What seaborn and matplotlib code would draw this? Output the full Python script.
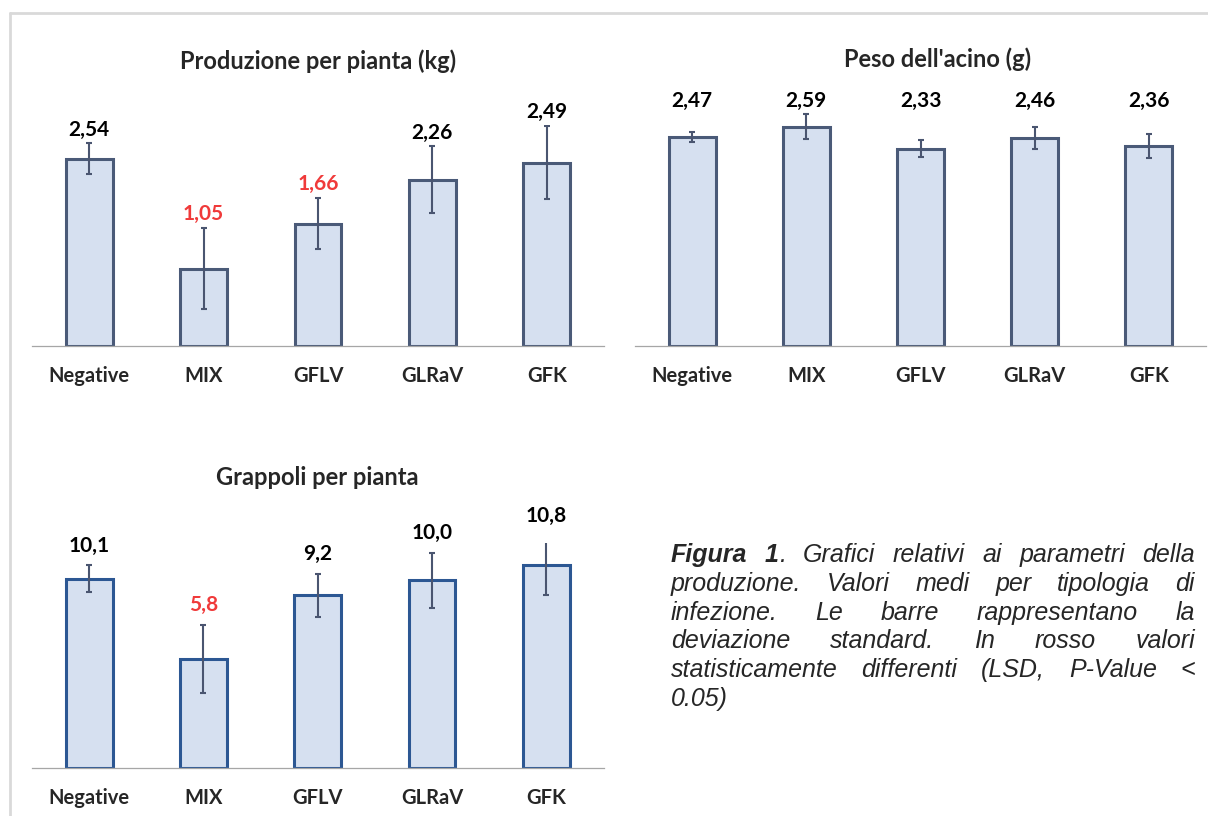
import numpy as np
import pandas as pd
import seaborn as sns
import matplotlib
matplotlib.use("Agg")
import matplotlib.pyplot as plt
from matplotlib.lines import Line2D

# categories shared by the three charts
categories = ["Negative", "MIX", "GFLV", "GLRaV", "GFK"]

# Produzione per pianta (kg)
prod_mean = [2.54, 1.05, 1.66, 2.26, 2.49]
prod_sd = [0.21, 0.55, 0.35, 0.45, 0.50]
prod_red = [False, True, True, False, False]

# Peso dell'acino (g)
peso_mean = [2.47, 2.59, 2.33, 2.46, 2.36]
peso_sd = [0.06, 0.15, 0.10, 0.13, 0.14]
peso_red = [False, False, False, False, False]

# Grappoli per pianta
grap_mean = [10.1, 5.8, 9.2, 10.0, 10.8]
grap_sd = [0.70, 1.80, 1.15, 1.47, 1.60]
grap_red = [False, True, False, False, False]

caption_lines = [
    "Figura 1. Grafici relativi ai parametri della",
    "produzione. Valori medi per tipologia di",
    "infezione. Le barre rappresentano la",
    "deviazione standard. In rosso valori",
    "statisticamente differenti (LSD, P-Value <",
    "0.05)",
]

W, H = 1208, 816
FILL = "#D6E0F0"
ERR = "#4A5570"
RED = "#F03A3A"
GRAY = "#A6A6A6"


def px_rect(left, top, right, bottom):
    """Axes rectangle in figure fractions from pixel edges."""
    return [left / W, 1 - bottom / H, (right - left) / W, (bottom - top) / H]


def draw_panel(ax, means, sds, red, title, edge, ndec, ymax, title_pad,
               label_off, labels_on_top=False, title_x=0.5):
    df = pd.DataFrame({"cat": categories, "val": means})
    sns.barplot(data=df, x="cat", y="val", ax=ax, color=FILL, saturation=1,
                width=0.41, edgecolor=edge, linewidth=2.2, errorbar=None)
    x = np.arange(len(categories))
    ax.errorbar(x, means, yerr=sds, fmt="none", ecolor=ERR, elinewidth=1.5,
                capsize=2.5, capthick=1.5, zorder=5)
    ax.set_ylim(0, ymax)
    ax.set_xlim(-0.5, len(categories) - 0.5)

    # value labels above the error bars
    for xi, m, s, r in zip(x, means, sds, red):
        txt = "{:.{}f}".format(m, ndec).replace(".", ",")
        y = ymax if labels_on_top else m + s
        ax.annotate(txt, (xi, y), xytext=(0, label_off),
                    textcoords="offset points", ha="center", va="center",
                    fontsize=15, fontweight="bold",
                    color=RED if r else "black", annotation_clip=False)

    # excel-like axis: only the bottom line with ticks between categories
    for side in ["left", "top", "right"]:
        ax.spines[side].set_visible(False)
    ax.spines["bottom"].set_color(GRAY)
    ax.spines["bottom"].set_linewidth(0.9)
    ax.set_yticks([])
    ax.set_xticks(np.arange(-0.5, len(categories), 1), minor=True)
    ax.tick_params(axis="x", which="major", length=0, pad=14.5,
                   labelsize=14.5)
    ax.tick_params(axis="x", which="minor", length=4.5, width=0.9,
                   color=GRAY, direction="out")
    for lab in ax.get_xticklabels():
        lab.set_fontweight("bold")
    ax.set_xlabel("")
    ax.set_ylabel("")
    ax.set_title(title, fontsize=17, fontweight="bold", pad=title_pad,
                 x=title_x)
    ax.set_facecolor("white")


def draw_caption(fig, lines, x0, x1, y0, step, size=18):
    """Justified italic caption, first words in bold."""
    renderer = fig.canvas.get_renderer()
    first = True
    for i, line in enumerate(lines):
        yb = 1 - (y0 + i * step) / H
        words = []
        for w in line.split(" "):
            if first and w == "Figura":
                words.append([(w, "bold")])
            elif first and w == "1.":
                words.append([("1", "bold"), (".", "normal")])
                first = False
            else:
                words.append([(w, "normal")])
        # build the pieces and measure them
        built = []
        for segs in words:
            parts = []
            for s, wt in segs:
                t = fig.text(0, yb, s, fontsize=size, fontstyle="italic",
                             fontweight=wt, family=["Liberation Sans"],
                             va="baseline", ha="left")
                wpx = t.get_window_extent(renderer).width
                parts.append((t, wpx))
            built.append(parts)
        widths = [sum(p[1] for p in parts) for parts in built]
        if i < len(lines) - 1 and len(built) > 1:
            gap = (x1 - x0 - sum(widths)) / (len(built) - 1)
        else:
            gap = size * 100 / 72 * 0.278
        xp = x0
        for parts, wd in zip(built, widths):
            xs = xp
            for t, wpx in parts:
                t.set_x(xs / W)
                xs += wpx
            xp += wd + gap


sns.set_style("white")
plt.rcParams["font.family"] = ["Lato", "DejaVu Sans"]

fig = plt.figure(figsize=(W / 100, H / 100), dpi=100)
fig.patch.set_facecolor("white")

ax1 = fig.add_axes(px_rect(32, 125, 604, 346))
draw_panel(ax1, prod_mean, prod_sd, prod_red, "Produzione per pianta (kg)",
           "#4A5A78", 2, 3.0, title_pad=40, label_off=10)

ax2 = fig.add_axes(px_rect(635, 109, 1206, 345.7))
draw_panel(ax2, peso_mean, peso_sd, peso_red, "Peso dell'acino (g)",
           "#4A5A78", 2, 2.8, title_pad=30.5, label_off=6,
           labels_on_top=True, title_x=0.53)

ax3 = fig.add_axes(px_rect(32, 543, 603.5, 767.7))
draw_panel(ax3, grap_mean, grap_sd, grap_red, "Grappoli per pianta",
           "#2C5793", 1, 12.0, title_pad=42, label_off=14.4)

# light gray outer frame (left and top edges)
fig.add_artist(Line2D([10 / W, 10 / W], [0, 1 - 13 / H], color="#D9D9D9",
                      lw=2))
fig.add_artist(Line2D([10 / W, 1], [1 - 13 / H, 1 - 13 / H],
                      color="#D9D9D9", lw=2))

draw_caption(fig, caption_lines, 671, 1195, 562, 28.8)

fig.savefig("out.png", dpi=100)
